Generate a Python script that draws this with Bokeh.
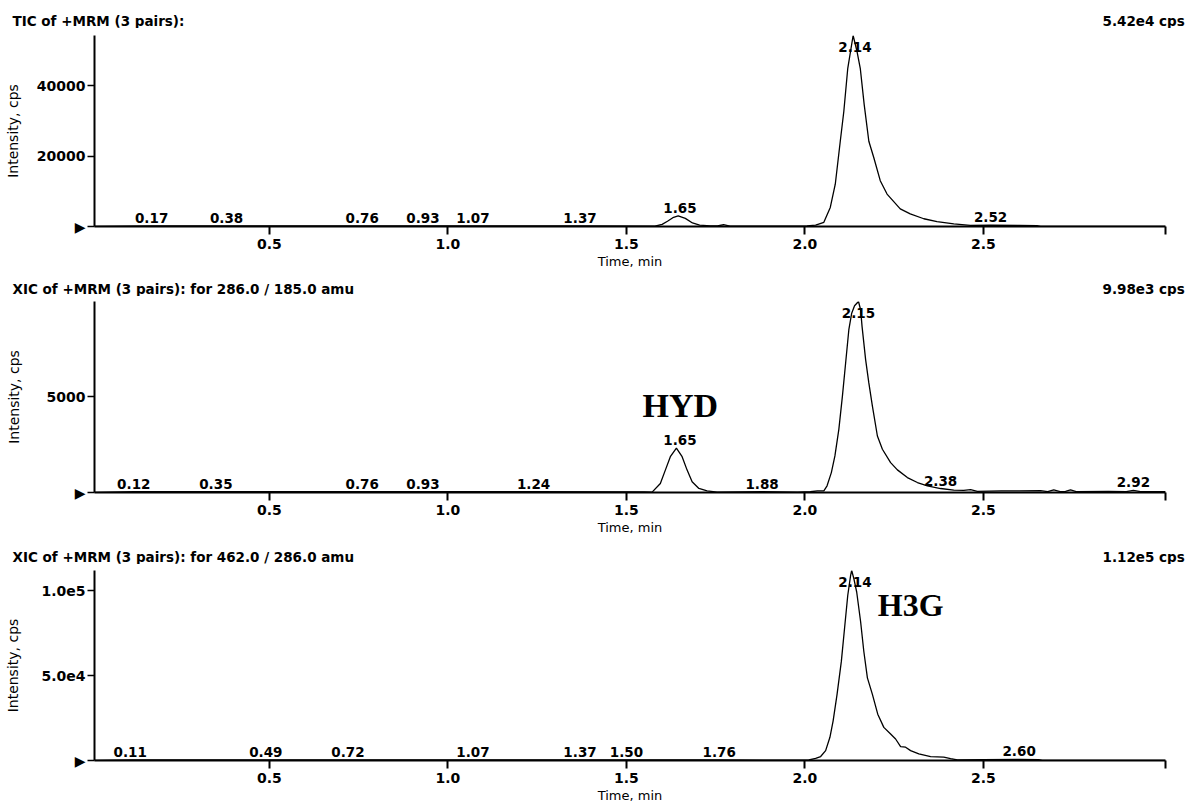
import math
from bokeh.plotting import figure
from bokeh.models import Label, FixedTicker, ColumnDataSource, NumeralTickFormatter
from bokeh.embed import file_html
from bokeh.resources import INLINE
from bokeh.core.properties import value

# ---------------- data ----------------
x_ticks = [0.5, 1.0, 1.5, 2.0, 2.5, 3.01]
x_tick_labels = {3.01: ""}

# Panel 1: TIC
tic_title = "TIC of +MRM (3 pairs):"
tic_scale = "5.42e4  cps"
tic_max = 54200
tic_time = [0.01, 0.17, 0.38, 0.76, 0.93, 1.07, 1.37, 1.58, 1.60, 1.615, 1.63, 1.645,
            1.665, 1.685, 1.705, 1.735, 1.755, 1.772, 1.79, 1.95, 2.006, 2.030, 2.053,
            2.071, 2.085, 2.099, 2.109, 2.120, 2.135, 2.146, 2.155, 2.166, 2.179, 2.193,
            2.211, 2.230, 2.267, 2.295, 2.333, 2.370, 2.417, 2.463, 2.52, 2.60, 2.65,
            2.66, 3.01]
tic_int = [0, 150, 150, 150, 150, 150, 150, 100, 600, 1500, 2500, 3000,
           2300, 1000, 400, 150, 200, 500, 100, 100, 150, 400, 1200,
           5400, 12000, 24200, 32700, 44900, 54200, 49600, 44900, 34600, 24200, 19500,
           13000, 9200, 5000, 3600, 2200, 1400, 750, 300, 350, 300, 250,
           50, 50]
tic_lbl_rt = [0.17, 0.38, 0.76, 0.93, 1.07, 1.37, 1.65, 2.52]
tic_lbl_int = [150, 150, 150, 150, 150, 150, 3000, 350]
tic_apex_rt = [2.14]
tic_apex_int = [54200]
tic_yticks = [0, 20000, 40000]
tic_ylabels = {0: "\u25B6", 20000: "20000", 40000: "40000"}

# Panel 2: XIC 286.0 / 185.0
x1_title = "XIC of +MRM (3 pairs): for 286.0 / 185.0 amu"
x1_scale = "9.98e3  cps"
x1_max = 9980
x1_time = [0.01, 0.12, 0.35, 0.76, 0.93, 1.24, 1.55, 1.572, 1.595, 1.609, 1.623, 1.640,
           1.656, 1.670, 1.684, 1.703, 1.726, 1.754, 1.88, 1.98, 2.015, 2.035, 2.053,
           2.062, 2.074, 2.084, 2.095, 2.105, 2.114, 2.123, 2.131, 2.139, 2.150, 2.156,
           2.160, 2.170, 2.179, 2.189, 2.203, 2.217, 2.240, 2.259, 2.287, 2.315, 2.343,
           2.380, 2.417, 2.445, 2.464, 2.483, 2.55, 2.60, 2.66, 2.68, 2.697, 2.715,
           2.73, 2.744, 2.76, 2.85, 2.90, 2.92, 2.94, 3.01]
x1_int = [0, 40, 40, 40, 40, 40, 30, 20, 470, 1170, 1870, 2320,
          1870, 1170, 560, 210, 85, 20, 50, 20, 40, 90, 88,
          349, 1041, 1911, 3300, 5034, 6768, 8506, 9370, 9756, 9980, 9548,
          8678, 6945, 5727, 4514, 2952, 2259, 1562, 1182, 781, 521, 349,
          208, 125, 110, 150, 60, 80, 90, 100, 50, 140, 50,
          60, 140, 50, 60, 50, 110, 50, 50]
x1_lbl_rt = [0.12, 0.35, 0.76, 0.93, 1.24, 1.65, 1.88, 2.38, 2.92]
x1_lbl_int = [40, 40, 40, 40, 40, 2320, 50, 208, 110]
x1_apex_rt = [2.15]
x1_apex_int = [9980]
x1_yticks = [0, 5000]
x1_ylabels = {0: "\u25B6", 5000: "5000"}

# Panel 3: XIC 462.0 / 286.0
x2_title = "XIC of +MRM (3 pairs): for 462.0 / 286.0 amu"
x2_scale = "1.12e5  cps"
x2_max = 112000
x2_time = [0.01, 0.11, 0.49, 0.72, 1.07, 1.37, 1.50, 1.76, 1.95, 2.011, 2.030, 2.044,
           2.058, 2.070, 2.079, 2.090, 2.102, 2.111, 2.120, 2.128, 2.131, 2.137, 2.145,
           2.156, 2.165, 2.175, 2.189, 2.204, 2.221, 2.240, 2.254, 2.268, 2.282, 2.296,
           2.319, 2.352, 2.389, 2.408, 2.427, 2.50, 2.60, 2.655, 2.665, 3.01]
x2_int = [0, 300, 300, 300, 300, 300, 300, 300, 200, 300, 1200, 2337,
          5843, 13670, 23370, 38970, 58430, 77940, 97400, 109090, 112000, 107160, 99330,
          81800, 64270, 48730, 38970, 27290, 19520, 15600, 12680, 8180, 7830, 5843,
          3915, 2337, 1987, 1170, 410, 500, 600, 500, 100, 100]
x2_lbl_rt = [0.11, 0.49, 0.72, 1.07, 1.37, 1.50, 1.76, 2.60]
x2_lbl_int = [300, 300, 300, 300, 300, 300, 300, 600]
x2_apex_rt = [2.14]
x2_apex_int = [112000]
x2_yticks = [0, 50000, 100000]
x2_ylabels = {0: "\u25B6", 50000: "5.0e4", 100000: "1.0e5"}

# ---------------- layout constants ----------------
W = 1192
FRAME_H = 191
BORDER_L = 94
BORDER_R = 27
FONT = "DejaVu Sans"


def make_header(title, scale_text, height, center_from_top):
    h = figure(width=W, height=height, x_range=(0, W), y_range=(0, height),
               output_backend="svg", toolbar_location=None,
               x_axis_location=None, y_axis_location=None, min_border=0)
    h.grid.visible = False
    h.outline_line_color = None
    y = height - center_from_top
    h.add_layout(Label(x=12, y=y, text=title, text_font=FONT, text_font_style="bold",
                       text_font_size="13.5px", text_align="left",
                       text_baseline="middle", text_color="black"))
    h.add_layout(Label(x=W - 3, y=y, text=scale_text, text_font=FONT,
                       text_font_style="bold", text_font_size="13.5px",
                       text_align="right", text_baseline="middle", text_color="black"))
    return h


def make_panel(t, inten, lbl_rt, lbl_int, apex_rt, apex_int, y_max, y_ticks,
               y_labels, height, top, ylabel_standoff):
    bottom = height - top - FRAME_H
    p = figure(width=W, height=height, x_range=(0.01, 3.01), y_range=(0, y_max),
               output_backend="svg", toolbar_location=None,
               min_border_left=BORDER_L, min_border_right=BORDER_R,
               min_border_top=top, min_border_bottom=bottom)
    p.grid.visible = False
    p.outline_line_color = None
    p.background_fill_color = "white"
    p.border_fill_color = "white"

    xa = p.xaxis[0]
    xa.ticker = FixedTicker(ticks=x_ticks)
    xa.formatter = NumeralTickFormatter(format="0.0")
    xa.major_label_overrides = x_tick_labels
    xa.axis_line_width = 2
    xa.axis_line_color = "black"
    xa.major_tick_line_width = 2
    xa.major_tick_line_color = "black"
    xa.major_tick_in = 0
    xa.major_tick_out = 8
    xa.minor_tick_line_color = None
    xa.major_label_standoff = 4
    xa.major_label_text_font = FONT
    xa.major_label_text_font_style = "bold"
    xa.major_label_text_font_size = "14px"
    xa.major_label_text_color = "black"
    xa.axis_label = "Time, min"
    xa.axis_label_standoff = 2
    xa.axis_label_text_font = FONT
    xa.axis_label_text_font_style = "normal"
    xa.axis_label_text_font_size = "13px"
    xa.axis_label_text_color = "black"

    ya = p.yaxis[0]
    ya.ticker = FixedTicker(ticks=y_ticks)
    ya.major_label_overrides = y_labels
    ya.axis_line_width = 2
    ya.axis_line_color = "black"
    ya.major_tick_line_width = 1.5
    ya.major_tick_line_color = "black"
    ya.major_tick_in = 0
    ya.major_tick_out = 7
    ya.minor_tick_line_color = None
    ya.major_label_standoff = 2
    ya.major_label_text_font = FONT
    ya.major_label_text_font_style = "bold"
    ya.major_label_text_font_size = "14px"
    ya.major_label_text_color = "black"
    ya.axis_label = "Intensity, cps"
    ya.axis_label_standoff = ylabel_standoff
    ya.axis_label_text_font = FONT
    ya.axis_label_text_font_style = "normal"
    ya.axis_label_text_font_size = "14px"
    ya.axis_label_text_color = "black"

    p.line(t, inten, line_color="black", line_width=1.3)

    src = ColumnDataSource(dict(x=lbl_rt, y=lbl_int, txt=["%.2f" % v for v in lbl_rt]))
    p.text(x="x", y="y", text="txt", source=src, text_align="center",
           text_baseline="middle", y_offset=-8, text_font=value(FONT),
           text_font_style="bold", text_font_size="13.5px", text_color="black")
    asrc = ColumnDataSource(dict(x=apex_rt, y=apex_int, txt=["%.2f" % v for v in apex_rt]))
    p.text(x="x", y="y", text="txt", source=asrc, text_align="center",
           text_baseline="top", y_offset=6, text_font=value(FONT),
           text_font_style="bold", text_font_size="13.5px", text_color="black")
    return p


h1 = make_header(tic_title, tic_scale, height=28, center_from_top=20)
p1 = make_panel(tic_time, tic_int, tic_lbl_rt, tic_lbl_int, tic_apex_rt, tic_apex_int,
                tic_max, tic_yticks, tic_ylabels, height=250, top=7, ylabel_standoff=13)

h2 = make_header(x1_title, x1_scale, height=18, center_from_top=10)
p2 = make_panel(x1_time, x1_int, x1_lbl_rt, x1_lbl_int, x1_apex_rt, x1_apex_int,
                x1_max, x1_yticks, x1_ylabels, height=250, top=5, ylabel_standoff=22)
p2.add_layout(Label(x=1.545, y=4546, text="HYD", text_font="Liberation Serif",
                    text_font_style="bold", text_font_size="34px", text_align="left",
                    text_baseline="middle", text_color="black"))

h3 = make_header(x2_title, x2_scale, height=18, center_from_top=10)
p3 = make_panel(x2_time, x2_int, x2_lbl_rt, x2_lbl_int, x2_apex_rt, x2_apex_int,
                x2_max, x2_yticks, x2_ylabels, height=241, top=6, ylabel_standoff=17)
p3.add_layout(Label(x=2.204, y=91480, text="H3G", text_font="Liberation Serif",
                    text_font_style="bold", text_font_size="32px", text_align="left",
                    text_baseline="middle", text_color="black"))

roots = [h1, p1, h2, p2, h3, p3]
open("out.html", "w").write(file_html(roots, INLINE))
